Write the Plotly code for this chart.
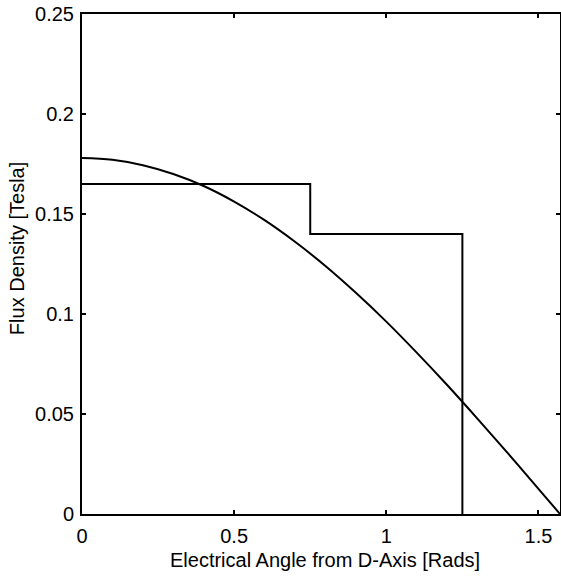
import plotly.graph_objects as go

# Step-shaped flux density (piecewise constant)
step_x = [0.0, 0.75, 0.75, 1.25, 1.25]
step_y = [0.165, 0.165, 0.14, 0.14, 0.0]

# Smooth flux density curve
curve_x = [0.0, 0.1, 0.2, 0.3, 0.4, 0.5, 0.6, 0.7, 0.8, 0.9, 1.0,
           1.1, 1.2, 1.3, 1.4, 1.5, 1.5708]
curve_y = [0.178, 0.1771, 0.1744, 0.1700, 0.1640, 0.1562, 0.1469, 0.1361,
           0.1240, 0.1106, 0.0962, 0.0807, 0.0645, 0.0476, 0.0303, 0.0126, 0.0]

x_ticks = [0, 0.5, 1, 1.5]
x_tick_labels = ["0", "0.5", "1", "1.5"]
y_ticks = [0, 0.05, 0.1, 0.15, 0.2, 0.25]
y_tick_labels = ["0", "0.05", "0.1", "0.15", "0.2", "0.25"]

x_title = "Electrical Angle from D-Axis [Rads]"
y_title = "Flux Density [Tesla]"

fig = go.Figure()
fig.add_trace(go.Scatter(x=step_x, y=step_y, mode="lines",
                         line=dict(color="black", width=2), showlegend=False))
fig.add_trace(go.Scatter(x=curve_x, y=curve_y, mode="lines",
                         line=dict(color="black", width=2, shape="spline"),
                         showlegend=False))

font = "Liberation Sans, Arial, Helvetica, sans-serif"
fig.update_layout(
    width=561, height=579,
    margin=dict(l=82, r=1, t=14, b=65, autoexpand=False),
    paper_bgcolor="white", plot_bgcolor="white",
    font=dict(family=font, size=20, color="black"),
    xaxis=dict(range=[0, 1.5708], tickvals=x_ticks, ticktext=x_tick_labels,
               ticks="inside", ticklen=4, tickwidth=1.5, tickcolor="black",
               showline=True, linecolor="black", linewidth=2, mirror="ticks",
               showgrid=False, zeroline=False, automargin=False,
               ticklabelstandoff=3, tickfont=dict(size=20)),
    yaxis=dict(range=[0, 0.25], tickvals=y_ticks, ticktext=y_tick_labels,
               ticks="inside", ticklen=4, tickwidth=1.5, tickcolor="black",
               showline=True, linecolor="black", linewidth=2, mirror="ticks",
               showgrid=False, zeroline=False, automargin=False,
               ticklabelstandoff=2, tickfont=dict(size=20)),
    annotations=[
        dict(text=x_title, xref="paper", yref="paper", x=0.508, y=-0.092,
             xanchor="center", yanchor="middle", showarrow=False,
             font=dict(size=20)),
        dict(text=y_title, xref="paper", yref="paper", x=-0.1357, y=0.53,
             xanchor="center", yanchor="middle", showarrow=False,
             textangle=-90, font=dict(size=20)),
    ],
)

fig.write_html(
    "out.html",
    config={"displayModeBar": False},
    post_script="document.body.style.margin='0';document.body.style.overflow='hidden';",
)
